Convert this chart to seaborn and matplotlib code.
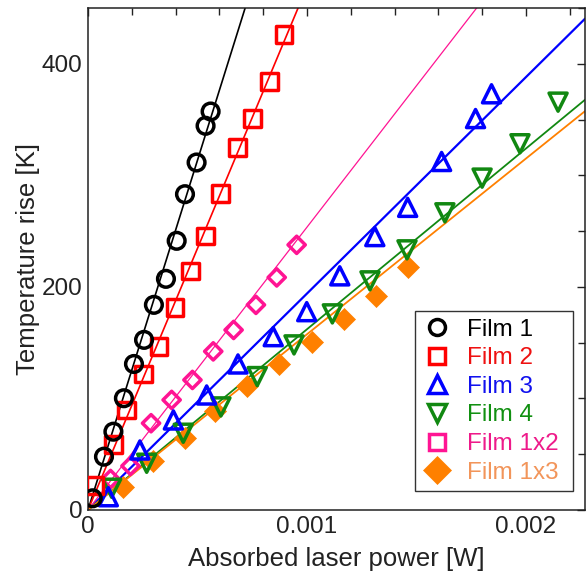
import numpy as np
import pandas as pd
import matplotlib
matplotlib.use("Agg")
import matplotlib.pyplot as plt
import seaborn as sns
from matplotlib.lines import Line2D
from matplotlib.ticker import MultipleLocator, FuncFormatter

# ---------------- data ----------------
film1_x = [0.0000215, 0.000073, 0.000116, 0.000164, 0.000210, 0.000256, 0.000301,
           0.000356, 0.000405, 0.000443, 0.000496, 0.000537, 0.000560]
film1_y = [10.5, 47.8, 70.2, 100.2, 130.9, 152.5, 183.9, 207.2, 241.3, 283.1, 311.5, 344.4, 357.2]

film2_x = [0.000032, 0.000116, 0.000177, 0.000253, 0.000324, 0.000397, 0.000468,
           0.000537, 0.000606, 0.000682, 0.000750, 0.000828, 0.000895]
film2_y = [22.0, 59.0, 89.7, 122.0, 146.5, 181.8, 214.3, 245.7, 284.0, 325.0, 350.7, 384.0, 426.0]

film3_x = [0.0000927, 0.000237, 0.000390, 0.000542, 0.000685, 0.000846, 0.000999,
           0.001150, 0.001310, 0.001460, 0.001615, 0.001770, 0.001843]
film3_y = [11.9, 53.8, 80.7, 103.1, 130.9, 155.4, 177.8, 209.9, 245.1, 271.3, 312.4, 350.9, 373.1]

film4_x = [0.000108, 0.000268, 0.000435, 0.000607, 0.000773, 0.000941, 0.001116,
           0.001288, 0.001457, 0.001630, 0.001800, 0.001973, 0.002147]
film4_y = [19.5, 41.9, 68.8, 92.4, 119.6, 148.0, 175.8, 205.4, 233.2, 266.4, 297.5, 328.3, 365.6]

film1x2_x = [0.000103, 0.000194, 0.000288, 0.000382, 0.000477, 0.000572, 0.000665,
             0.000767, 0.000862, 0.000953]
film1x2_y = [27.8, 39.5, 77.8, 98.7, 116.6, 142.2, 161.4, 183.9, 208.5, 237.7]

film1x3_x = [0.000161, 0.000298, 0.000443, 0.000580, 0.000728, 0.000874, 0.001025,
             0.001169, 0.001317, 0.001463]
film1x3_y = [20.9, 43.9, 64.1, 88.8, 111.2, 130.5, 150.2, 171.3, 191.9, 218.2]

labels = ["Film 1", "Film 2", "Film 3", "Film 4", "Film 1x2", "Film 1x3"]
# slopes of the linear fits (K/W)
fit_slopes = [627000, 469000, 194000, 162000, 253500, 157500]

xlim = (0, 0.00227)
ylim = (0, 450)
x_major, x_minor = 0.001, 0.0002
y_major, y_minor = 200, 50

# ---------------- styles ----------------
colors = ["#000000", "#ff0000", "#0000ff", "#118811", "#ff1493", "#ff8000"]
text_colors = ["#000000", "#ee1111", "#1111ee", "#119011", "#ee1a8a", "#f2955a"]
markers = ["o", "s", "^", "v", "D", "D"]
legend_markers = ["o", "s", "^", "v", "s", "D"]
filled = [False, False, False, False, False, True]
msizes = [12, 12, 13, 13, 8.8, 11.2]
leg_msizes = [11.5, 11.5, 13, 13, 11.5, 14.3]
lwidths = [1.2, 1.2, 1.6, 1.3, 0.9, 1.3]
FS = 17.5
LFS = 18.5

xs_all = [film1_x, film2_x, film3_x, film4_x, film1x2_x, film1x3_x]
ys_all = [film1_y, film2_y, film3_y, film4_y, film1x2_y, film1x3_y]

sns.set_theme(style="white")
plt.rcParams["font.family"] = ["Liberation Sans", "DejaVu Sans"]

fig = plt.figure(figsize=(5.87, 5.81), dpi=100)
ax = fig.add_axes([88 / 587, 71 / 581, 497 / 587, 502 / 581])

# fit lines
xline = np.linspace(xlim[0], xlim[1], 200)
for i, lab in enumerate(labels):
    sns.lineplot(x=xline, y=fit_slopes[i] * xline, ax=ax, color=colors[i],
                 lw=lwidths[i], zorder=2, legend=False)

# markers
for i in [5, 4, 3, 2, 1, 0]:
    df = pd.DataFrame({"x": xs_all[i], "y": ys_all[i]})
    if filled[i]:
        sns.scatterplot(data=df, x="x", y="y", ax=ax, marker=markers[i],
                        s=msizes[i] ** 2, color=colors[i], edgecolor=colors[i],
                        linewidth=0.5, zorder=3, legend=False)
    else:
        sns.scatterplot(data=df, x="x", y="y", ax=ax, marker=markers[i],
                        s=msizes[i] ** 2, color=colors[i], facecolor="none",
                        edgecolor=colors[i], linewidth=2.5, zorder=3, legend=False)

ax.set_xlim(*xlim)
ax.set_ylim(*ylim)
ax.xaxis.set_major_locator(MultipleLocator(x_major))
ax.xaxis.set_minor_locator(MultipleLocator(x_minor))
ax.yaxis.set_major_locator(MultipleLocator(y_major))
ax.yaxis.set_minor_locator(MultipleLocator(y_minor))
fmt = FuncFormatter(lambda v, p: "0" if abs(v) < 1e-12 else f"{v:g}")
ax.xaxis.set_major_formatter(fmt)
ax.yaxis.set_major_formatter(FuncFormatter(lambda v, p: f"{v:.0f}"))
ax.tick_params(which="both", direction="in", top=True, right=True,
               color="#222222", width=1.0, labelsize=FS, labelcolor="#222222")
ax.tick_params(which="major", length=6, pad=4)
ax.tick_params(which="minor", length=5)
for sp in ax.spines.values():
    sp.set_color("#222222")
    sp.set_linewidth(1.1)

ax.set_xlabel("Absorbed laser power [W]", fontsize=LFS, color="#222222")
ax.set_ylabel("Temperature rise [K]", fontsize=LFS, color="#222222")
ax.xaxis.set_label_coords(0.5, -0.074)
ax.yaxis.set_label_coords(-0.0966, 0.5)

handles = []
for i, lab in enumerate(labels):
    if filled[i]:
        h = Line2D([], [], ls="none", marker=legend_markers[i], ms=leg_msizes[i],
                   mfc=colors[i], mec=colors[i], mew=0.5)
    else:
        h = Line2D([], [], ls="none", marker=legend_markers[i], ms=leg_msizes[i],
                   mfc="none", mec=colors[i], mew=2.5)
    handles.append(h)
leg = ax.legend(handles, labels, loc="lower left",
                bbox_to_anchor=((415 - 88) / 497, 0.038, 158 / 497, 0.3), mode="expand",
                fontsize=FS, frameon=True, fancybox=False, edgecolor="#333333",
                framealpha=1, labelcolor=text_colors, labelspacing=0.27,
                handletextpad=0.63, handlelength=1.2, borderpad=0.3, borderaxespad=0)
leg.get_frame().set_linewidth(1.0)

fig.savefig("out.png", dpi=100)
